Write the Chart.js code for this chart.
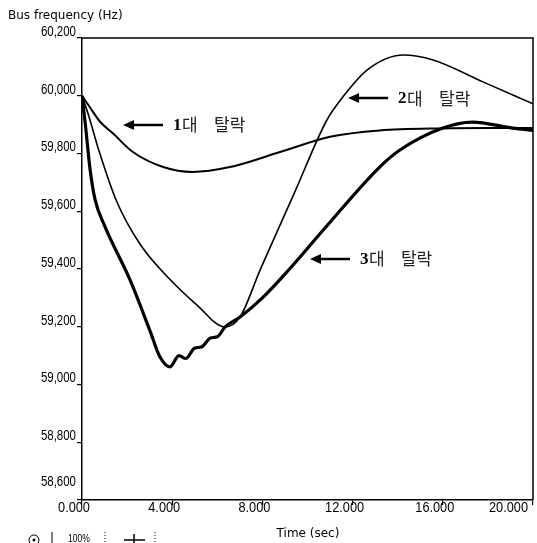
<!DOCTYPE html>
<html>
<head>
<meta charset="utf-8">
<script src="https://cdn.jsdelivr.net/npm/chart.js@4.4.1/dist/chart.umd.min.js"></script>
<style>
  html, body { margin: 0; padding: 0; background: #fff; }
  canvas { display: block; }
</style>
</head>
<body>
<canvas id="freq-chart" width="537" height="543"></canvas>
<script>
// tick values
const xTicks = [0, 4, 8, 12, 16, 20];
const yTicks = [58.6, 58.8, 59.0, 59.2, 59.4, 59.6, 59.8, 60.0, 60.2];

// 1 unit tripped
const time1 = [0, 0.35, 0.8, 1.37, 2.26, 3.6, 4.9, 6.56, 8.78, 11, 13.2, 16, 18, 20];
const freq1 = [60.0, 59.96, 59.91, 59.87, 59.805, 59.753, 59.736, 59.753, 59.805, 59.858, 59.88, 59.887, 59.888, 59.888];

// 2 units tripped
const time2 = [0, 0.3, 0.75, 1.51, 2.6, 3.95, 5.1, 6.34, 7.01, 7.9, 9.4, 10.86, 11.57, 12.64, 14.24, 15.57, 17.78, 20];
const freq2 = [60.0, 59.93, 59.81, 59.639, 59.483, 59.36, 59.275, 59.199, 59.234, 59.397, 59.66, 59.916, 59.996, 60.089, 60.141, 60.124, 60.048, 59.972];

// 3 units tripped
const time3 = [0, 0.15, 0.35, 0.58, 1.0, 2.13, 3.02, 3.46, 3.9, 4.3, 4.6, 5.0, 5.3, 5.7, 6.0, 6.34, 7.01, 8.0, 9.2, 10.7, 13.2, 14.1, 16.0, 17.3, 19.1, 20];
const freq3 = [60.0, 59.9, 59.75, 59.64, 59.55, 59.362, 59.185, 59.095, 59.061, 59.1, 59.09, 59.126, 59.13, 59.161, 59.165, 59.199, 59.234, 59.3, 59.4, 59.535, 59.753, 59.812, 59.888, 59.909, 59.888, 59.88];

const seriesLabels = ['1대 탈락', '2대 탈락', '3대 탈락'];

function toPoints(ts, fs) {
    return ts.map((t, i) => ({ x: t, y: fs[i] }));
}

// arrow callouts: head point in data units
const callouts = [
    { num: '1', t: 1.82, f: 59.899 },
    { num: '2', t: 11.8, f: 59.992 },
    { num: '3', t: 10.11, f: 59.435 }
];

// condensed text: squeeze horizontally around the anchor
function narrowText(ctx, txt, x, y, align, sx) {
    ctx.save();
    ctx.translate(x, y);
    ctx.scale(sx, 1);
    ctx.textAlign = align;
    ctx.fillText(txt, 0, 0);
    ctx.restore();
}

const overlay = {
    id: 'overlay',
    afterDraw(chart) {
        const ctx = chart.ctx;
        const a = chart.chartArea;
        const xs = chart.scales.x;
        const ys = chart.scales.y;
        ctx.save();
        ctx.strokeStyle = '#000';
        ctx.fillStyle = '#000';

        // top and right frame
        ctx.lineWidth = 1.5;
        ctx.beginPath();
        ctx.moveTo(a.left, a.top);
        ctx.lineTo(a.right, a.top);
        ctx.lineTo(a.right, a.bottom);
        ctx.stroke();

        // y labels
        ctx.font = '14px "Liberation Sans", sans-serif';
        ctx.textBaseline = 'bottom';
        yTicks.forEach((v, i) => {
            const py = ys.getPixelForValue(v);
            const txt = v.toFixed(3).replace('.', ',');
            narrowText(ctx, txt, 76, i === 0 ? py - 11 : py + 1, 'right', 0.82);
        });

        // x labels
        ctx.font = '15px "Liberation Sans", sans-serif';
        ctx.textBaseline = 'middle';
        xTicks.forEach((v, i) => {
            const px = xs.getPixelForValue(v);
            const txt = v.toFixed(3);
            if (i === xTicks.length - 1) {
                narrowText(ctx, txt, px - 5, 508, 'right', 0.85);
            } else {
                narrowText(ctx, txt, px - 8, 508, 'center', 0.85);
            }
        });

        // axis titles
        ctx.font = '12px "DejaVu Sans", sans-serif';
        ctx.textAlign = 'left';
        ctx.fillText('Bus frequency (Hz)', 8, 16);
        ctx.textAlign = 'center';
        ctx.fillText('Time (sec)', 308, 534);

        // callouts
        callouts.forEach((c, i) => {
            const hx = xs.getPixelForValue(c.t);
            const hy = ys.getPixelForValue(c.f);
            ctx.lineWidth = 2.5;
            ctx.beginPath();
            ctx.moveTo(hx + 6, hy);
            ctx.lineTo(hx + 40, hy);
            ctx.stroke();
            ctx.beginPath();
            ctx.moveTo(hx, hy);
            ctx.lineTo(hx + 11, hy - 5);
            ctx.lineTo(hx + 11, hy + 5);
            ctx.closePath();
            ctx.fill();

            ctx.textAlign = 'left';
            ctx.textBaseline = 'middle';
            ctx.font = 'bold 17px "Liberation Serif", serif';
            ctx.fillText(c.num, hx + 50, hy + 1);
            const parts = seriesLabels[i].split(' ');
            ctx.font = '17px "Noto Sans CJK KR", sans-serif';
            ctx.fillStyle = '#222';
            ctx.fillText(parts[0].replace(c.num, ''), hx + 59, hy);
            ctx.fillText(parts[1], hx + 91, hy);
            ctx.fillStyle = '#000';
        });

        // toolbar remnants at the bottom
        ctx.lineWidth = 1;
        ctx.beginPath();
        ctx.arc(34, 540, 5, 0, Math.PI * 2);
        ctx.stroke();
        ctx.beginPath();
        ctx.arc(34, 540, 1.5, 0, Math.PI * 2);
        ctx.fill();
        ctx.beginPath();
        ctx.moveTo(52, 532);
        ctx.lineTo(52, 543);
        ctx.stroke();
        ctx.font = '10px "Liberation Sans", sans-serif';
        ctx.textBaseline = 'middle';
        narrowText(ctx, '100%', 68, 539, 'left', 0.85);
        ctx.setLineDash([1, 2]);
        ctx.beginPath();
        ctx.moveTo(105, 532); ctx.lineTo(105, 543);
        ctx.moveTo(155, 532); ctx.lineTo(155, 543);
        ctx.stroke();
        ctx.setLineDash([]);
        ctx.lineWidth = 1.5;
        ctx.beginPath();
        ctx.moveTo(124, 540); ctx.lineTo(145, 540);
        ctx.moveTo(134, 534); ctx.lineTo(134, 543);
        ctx.stroke();
        ctx.restore();
    }
};

const ctx = document.getElementById('freq-chart').getContext('2d');
new Chart(ctx, {
    type: 'line',
    data: {
        datasets: [
            { label: seriesLabels[0], data: toPoints(time1, freq1), borderColor: '#000', borderWidth: 2 },
            { label: seriesLabels[1], data: toPoints(time2, freq2), borderColor: '#000', borderWidth: 1.6 },
            { label: seriesLabels[2], data: toPoints(time3, freq3), borderColor: '#000', borderWidth: 3.2 }
        ]
    },
    options: {
        responsive: false,
        animation: false,
        devicePixelRatio: 1,
        layout: { padding: { top: 38, right: 4, left: 0, bottom: 0 } },
        elements: {
            point: { radius: 0 },
            line: { cubicInterpolationMode: 'monotone', fill: false }
        },
        plugins: {
            legend: { display: false },
            tooltip: { enabled: false }
        },
        scales: {
            x: {
                type: 'linear',
                min: 0,
                max: 20,
                afterBuildTicks: (s) => { s.ticks = xTicks.map(v => ({ value: v })); },
                afterFit: (s) => { s.height = 43; },
                ticks: { display: false },
                grid: { drawOnChartArea: false, drawTicks: true, tickLength: 5, color: '#000', lineWidth: 1.2 },
                border: { color: '#000', width: 1.5 }
            },
            y: {
                type: 'linear',
                min: 58.6,
                max: 60.2,
                afterBuildTicks: (s) => { s.ticks = yTicks.map(v => ({ value: v })); },
                afterFit: (s) => { s.width = 82; },
                ticks: { display: false },
                grid: { drawOnChartArea: false, drawTicks: true, tickLength: 5, color: '#000', lineWidth: 1.2 },
                border: { color: '#000', width: 1.5 }
            }
        }
    },
    plugins: [overlay]
});
</script>
</body>
</html>
